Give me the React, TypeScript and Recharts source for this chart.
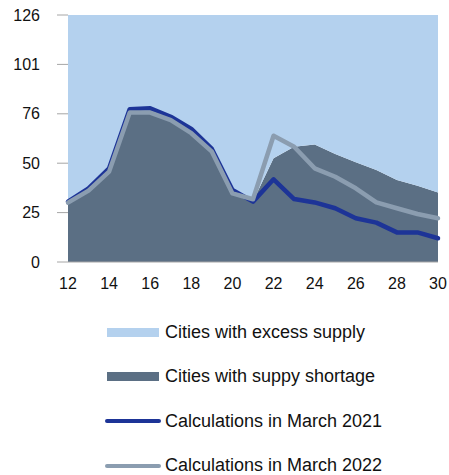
import { ComposedChart, Area, Line, XAxis, YAxis } from 'recharts';

const weeks = [12, 13, 14, 15, 16, 17, 18, 19, 20, 21, 22, 23, 24, 25, 26, 27, 28, 29, 30];
const shortage = [30, 36, 46, 76, 76, 72, 65.5, 56, 35, 31, 52.9, 58.8, 60, 55.1, 50.9, 46.9, 41.8, 38.9, 35.4];
const total = 126;
const calc2021 = [30.8, 37.6, 47.8, 77.9, 78.4, 74.1, 67.9, 57.7, 36.7, 30.8, 42.2, 32.1, 30.4, 27.4, 22.3, 20.1, 15.1, 15.1, 12.1];
const calc2022 = [30.3, 36.4, 46.1, 76.2, 76.2, 72.4, 65.7, 56.3, 35.0, 32.0, 64.4, 58.8, 47.8, 43.5, 37.6, 30.4, 27.4, 24.5, 22.3];
const xTicks = [12, 14, 16, 18, 20, 22, 24, 26, 28, 30];
const yTicks = [0, 25.2, 50.4, 75.6, 100.8, 126];

const data = weeks.map((w, i) => ({
    week: w,
    shortage: shortage[i],
    excess: total - shortage[i],
    calc2021: calc2021[i],
    calc2022: calc2022[i],
}));

const legendItems = [
    { label: 'Cities with excess supply', color: '#B4D1EE', kind: 'rect' },
    { label: 'Cities with suppy shortage', color: '#5B6F84', kind: 'rect' },
    { label: 'Calculations in March 2021', color: '#1D3497', kind: 'line' },
    { label: 'Calculations in March 2022', color: '#8B9DB0', kind: 'line' },
];

const font = '"Liberation Sans", Arial, sans-serif';
const tickStyle = { fontSize: 16, fill: '#111', fontFamily: font };

export default function App() {
    return (
        <div style={{ position: 'absolute', left: 0, top: 0, width: 449, height: 475, background: '#fff' }}>
            <ComposedChart
                width={449}
                height={300}
                data={data}
                margin={{ top: 15, right: 0, left: 0, bottom: 8 }}
            >
                <XAxis
                    dataKey="week"
                    type="number"
                    domain={[12, 30]}
                    ticks={xTicks}
                    interval={0}
                    tick={tickStyle}
                    tickLine={false}
                    axisLine={{ stroke: '#A6A6A6' }}
                    tickMargin={10}
                    height={30}
                />
                <YAxis
                    yAxisId="left"
                    domain={[0, 126]}
                    ticks={yTicks}
                    tickFormatter={(v) => String(Math.round(v))}
                    tick={tickStyle}
                    tickLine={{ stroke: '#A6A6A6' }}
                    tickSize={11}
                    tickMargin={17}
                    axisLine={false}
                    width={68}
                />
                <YAxis
                    yAxisId="right"
                    orientation="right"
                    domain={[0, 126]}
                    ticks={yTicks}
                    tickFormatter={() => ''}
                    tickLine={{ stroke: '#A6A6A6' }}
                    tickSize={9}
                    axisLine={false}
                    width={11}
                />
                <Area
                    yAxisId="left"
                    type="linear"
                    dataKey="shortage"
                    stackId="1"
                    stroke="none"
                    fill="#5B6F84"
                    fillOpacity={1}
                    isAnimationActive={false}
                />
                <Area
                    yAxisId="left"
                    type="linear"
                    dataKey="excess"
                    stackId="1"
                    stroke="none"
                    fill="#B4D1EE"
                    fillOpacity={1}
                    isAnimationActive={false}
                />
                <Line
                    yAxisId="left"
                    type="linear"
                    dataKey="calc2021"
                    stroke="#1D3497"
                    strokeWidth={4.5}
                    dot={false}
                    strokeLinecap="round"
                    strokeLinejoin="round"
                    isAnimationActive={false}
                />
                <Line
                    yAxisId="left"
                    type="linear"
                    dataKey="calc2022"
                    stroke="#8B9DB0"
                    strokeWidth={4.5}
                    dot={false}
                    strokeLinecap="round"
                    strokeLinejoin="round"
                    isAnimationActive={false}
                />
            </ComposedChart>
            <div style={{ position: 'absolute', left: 107, top: 310, fontFamily: font, fontSize: 18, color: '#111' }}>
                {legendItems.map((item) => (
                    <div key={item.label} style={{ display: 'flex', alignItems: 'center', height: 44.5 }}>
                        {item.kind === 'rect' ? (
                            <div style={{ width: 52, height: 9, background: item.color }} />
                        ) : (
                            <div style={{ width: 56, height: 4, borderRadius: 2, background: item.color, marginLeft: -2, marginRight: -2 }} />
                        )}
                        <span style={{ marginLeft: 6, whiteSpace: 'nowrap' }}>{item.label}</span>
                    </div>
                ))}
            </div>
        </div>
    );
}
